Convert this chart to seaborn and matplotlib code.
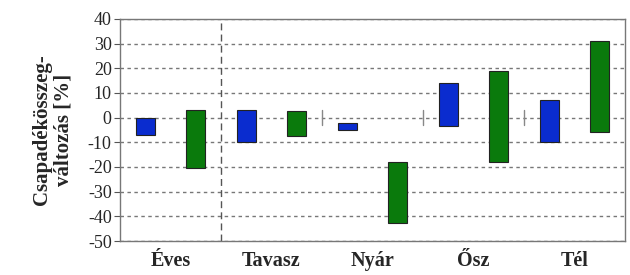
import pandas as pd
import matplotlib
matplotlib.use('Agg')
import matplotlib.pyplot as plt
import seaborn as sns

# Évszakok és a két forgatókönyv (alsó / felső határ, %)
seasons = ['Éves', 'Tavasz', 'Nyár', 'Ősz', 'Tél']
scenarios = ['A', 'B']
blue_low = [-7, -10, -5, -3.5, -10]
blue_high = [0, 3, -2, 14, 7]
green_low = [-20.5, -7.5, -42.5, -18, -6]
green_high = [3, 2.5, -18, 19, 31]
y_ticks = [40, 30, 20, 10, 0, -10, -20, -30, -40, -50]

colors = {'A': '#0a2ccf', 'B': '#0a7a0c'}

df = pd.DataFrame({
    'season': seasons * 2,
    'scenario': ['A'] * 5 + ['B'] * 5,
    'low': blue_low + green_low,
    'high': blue_high + green_high,
})
df['span'] = df['high'] - df['low']

sns.set_theme(style='white')
plt.rcParams['font.family'] = ['Liberation Serif', 'DejaVu Serif']

fig = plt.figure(figsize=(6.3, 2.75), dpi=100)
ax = fig.add_axes([0.1905, 0.1236, 0.8015, 0.8074])

ax.yaxis.grid(True, linestyle=(0, (2.5, 2.5)), color='#777777', linewidth=1.0)
ax.set_axisbelow(True)

sns.barplot(data=df, x='season', y='span', hue='scenario', order=seasons,
            hue_order=scenarios, palette=colors, width=1.0, gap=0.62,
            edgecolor='#222222', linewidth=0.8, legend=False, ax=ax,
            errorbar=None, saturation=1)

# lebegő oszlopok: az alsó határ adja a kezdőpontot
for cont, scen in zip(ax.containers, scenarios):
    sub = df[df['scenario'] == scen].set_index('season').loc[seasons]
    for bar, low in zip(cont, sub['low']):
        bar.set_y(low)

ax.set_xlim(-0.5, 4.5)
ax.set_ylim(-50, 40)
ax.set_yticks(y_ticks)
ax.set_yticklabels([str(v) for v in y_ticks], fontsize=13)
ax.tick_params(axis='y', which='both', left=True, length=4, width=0.8,
               color='#555555', pad=2)
ax.tick_params(axis='x', length=0, pad=7)
ax.set_xticks(range(len(seasons)))
ax.set_xticklabels(seasons, fontsize=14.5, fontweight='bold')
ax.set_xlabel('')
ax.set_ylabel('Csapadékösszeg-\nváltozás [%]', fontsize=15,
              fontweight='bold', labelpad=10, linespacing=1.15)

# elválasztók
ax.axvline(0.5, color='#555555', linestyle=(0, (5, 3)), linewidth=1.0)
for xs in [1.5, 2.5, 3.5]:
    ax.plot([xs, xs], [-3, 3], color='#888888', linewidth=1.0)

for sp in ax.spines.values():
    sp.set_color('#777777')
    sp.set_linewidth(1.0)

fig.savefig('out.png', dpi=100)
